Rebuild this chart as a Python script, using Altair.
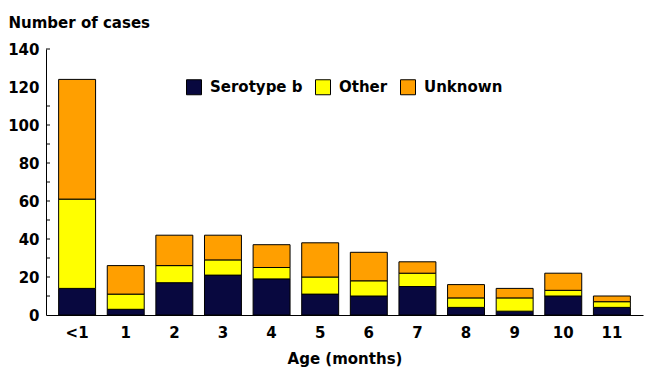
import altair as alt
import pandas as pd

ages = ["<1", "1", "2", "3", "4", "5", "6", "7", "8", "9", "10", "11"]
serotype_b = [14, 3, 17, 21, 19, 11, 10, 15, 4, 2, 10, 4]
other = [47, 8, 9, 8, 6, 9, 8, 7, 5, 7, 3, 3]
unknown = [63, 15, 16, 13, 12, 18, 15, 6, 7, 5, 9, 3]
series = ["Serotype b", "Other", "Unknown"]
colors = ["#08083F", "#FFFF00", "#FF9F00"]
y_label_values = [0, 20, 40, 60, 80, 100, 120, 140]
y_minor_ticks = [10, 20, 30, 40, 50, 60, 70, 80, 90, 100, 110, 140]

rows = []
for i, a in enumerate(ages):
    for k, (name, vals) in enumerate(zip(series, [serotype_b, other, unknown])):
        rows.append({"age": a, "series": name, "order": k, "count": vals[i]})
df = pd.DataFrame(rows)

FONT = "DejaVu Sans"

y_scale = alt.Scale(domain=[0, 140], nice=False)
y_axis = alt.Axis(
    values=y_label_values,
    title="Number of cases",
    titleAngle=0,
    titleAlign="left",
    titleBaseline="top",
    titleX=-38,
    titleY=-34,
    ticks=False,
    tickSize=0,
    labelPadding=7,
    grid=False,
)

bars = alt.Chart(df).mark_bar(stroke="black", strokeWidth=1).encode(
    x=alt.X(
        "age:N",
        sort=ages,
        scale=alt.Scale(paddingInner=0.24, paddingOuter=0.26),
        axis=alt.Axis(
            title="Age (months)",
            labelAngle=0,
            ticks=False,
            tickSize=0,
            labelPadding=10,
            titleY=36,
            titleBaseline="top",
        ),
    ),
    y=alt.Y("count:Q", stack="zero", scale=y_scale, axis=y_axis),
    color=alt.Color(
        "series:N",
        scale=alt.Scale(domain=series, range=colors),
        legend=alt.Legend(
            title=None,
            orient="none",
            legendX=140,
            legendY=30,
            direction="horizontal",
            columns=3,
            symbolType="square",
            symbolSize=225,
            symbolStrokeColor="black",
            symbolStrokeWidth=1,
            symbolOpacity=1,
            labelFont=FONT,
            labelFontSize=15,
            labelFontWeight="bold",
            labelColor="black",
            labelOffset=8,
            columnPadding=10,
            padding=0,
        ),
    ),
    order=alt.Order("order:Q", sort="ascending"),
)

ticks = alt.Chart(pd.DataFrame({"v": y_minor_ticks})).mark_rule(
    color="black", strokeWidth=1
).encode(
    y=alt.Y("v:Q", scale=y_scale, axis=y_axis),
    x=alt.value(0),
    x2=alt.value(4),
)

chart = alt.layer(bars, ticks).properties(
    width=597,
    height=266,
    padding={"left": 38, "top": 41, "right": 1, "bottom": 69},
    autosize=alt.AutoSizeParams(type="none"),
).configure_view(
    strokeWidth=0
).configure_axis(
    labelFont=FONT,
    labelFontSize=15,
    labelFontWeight="bold",
    labelColor="black",
    titleFont=FONT,
    titleFontSize=15,
    titleFontWeight="bold",
    titleColor="black",
    domainColor="black",
    domainWidth=1,
)

chart.save("out.html", embed_options={"renderer": "svg", "actions": False})
